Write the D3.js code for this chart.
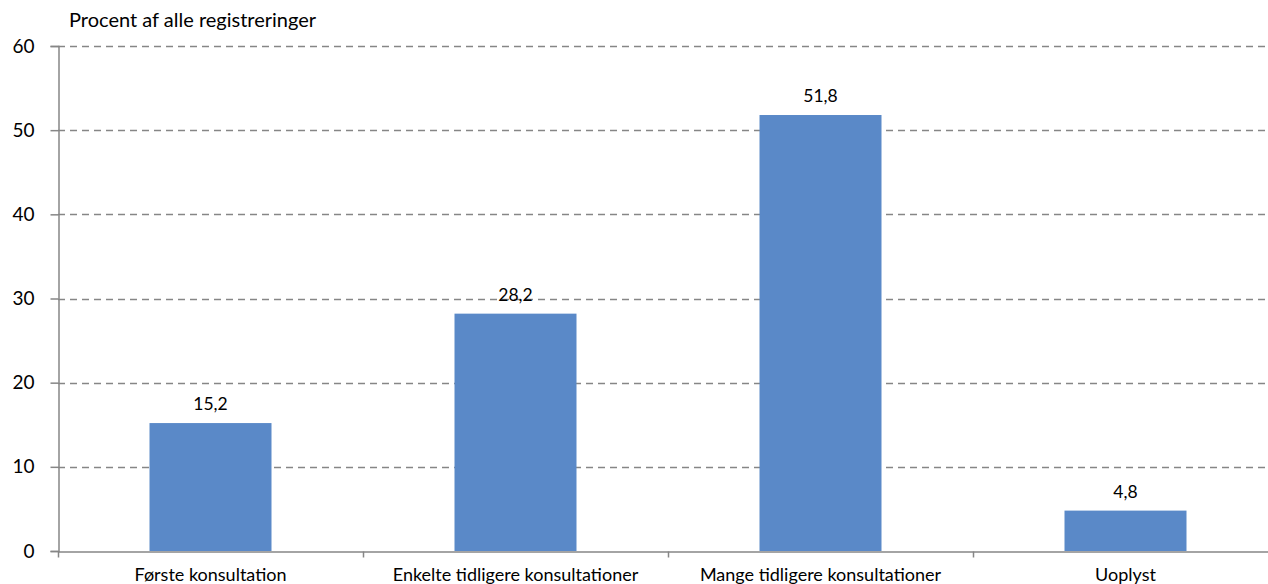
<!DOCTYPE html>
<html>
<head>
    <meta charset="utf-8">
    <script src="https://cdnjs.cloudflare.com/ajax/libs/d3/7.8.5/d3.min.js"></script>
    <style>
        body{ margin:0; background:#fff; }
        text{ font-family: Lato, "Open Sans", sans-serif; fill:#000; }
    </style>
</head>
<body>
<script>
    const categories = ['Første konsultation', 'Enkelte tidligere konsultationer', 'Mange tidligere konsultationer', 'Uoplyst'];
    const values = [15.2, 28.2, 51.8, 4.8];
    const yTicks = [0, 10, 20, 30, 40, 50, 60];
    const yTitle = 'Procent af alle registreringer';

    const W = 1268, H = 584;
    const mLeft = 58, mRight = 1278, mTop = 46, mBottom = 551;

    const svg = d3.select('body').append('svg')
        .attr('width', W).attr('height', H);

    const x = d3.scaleBand().domain(categories).range([mLeft, mRight]).padding(0);
    const y = d3.scaleLinear().domain([0, 60]).range([mBottom, mTop]);

    // gridlines
    svg.append('g').selectAll('line').data(yTicks.filter(d => d > 0)).enter()
        .append('line')
        .attr('x1', mLeft).attr('x2', W)
        .attr('y1', d => Math.round(y(d)) + 0.5).attr('y2', d => Math.round(y(d)) + 0.5)
        .attr('stroke', '#868686').attr('stroke-width', 1.3)
        .attr('stroke-dasharray', '7,5');

    // bars
    const bw = x.bandwidth() * 0.4;
    svg.append('g').selectAll('rect').data(values).enter()
        .append('rect')
        .attr('x', (d, i) => x(categories[i]) + (x.bandwidth() - bw) / 2)
        .attr('y', d => y(d))
        .attr('width', bw)
        .attr('height', d => mBottom - y(d))
        .attr('fill', '#5a89c8');

    // value labels
    svg.append('g').selectAll('text').data(values).enter()
        .append('text')
        .attr('x', (d, i) => x(categories[i]) + x.bandwidth() / 2)
        .attr('y', d => y(d) - 13)
        .attr('text-anchor', 'middle')
        .attr('font-size', 17.5)
        .text(d => String(d).replace('.', ','));

    // y axis
    const yAxis = svg.append('g').attr('transform', `translate(${mLeft + 0.5},0)`)
        .call(d3.axisLeft(y).tickValues(yTicks).tickSize(8).tickPadding(16).tickFormat(d => d));
    yAxis.select('.domain').attr('stroke', '#868686').attr('stroke-width', 1.5);
    yAxis.selectAll('.tick line').attr('stroke', '#868686').attr('stroke-width', 1.5);
    yAxis.selectAll('.tick text').attr('font-size', 19).style('font-family', 'Lato, sans-serif');

    // x axis
    const xAxis = svg.append('g').attr('transform', `translate(0,${mBottom + 0.5})`)
        .call(d3.axisBottom(x).tickSize(0).tickPadding(17));
    xAxis.select('.domain').attr('stroke', '#868686').attr('stroke-width', 1.5);
    xAxis.selectAll('.tick text').attr('font-size', 18).style('font-family', 'Lato, sans-serif');
    // category separators
    xAxis.append('g').selectAll('line').data(categories).enter()
        .append('line')
        .attr('x1', d => x(d) + 0.5).attr('x2', d => x(d) + 0.5)
        .attr('y1', 0).attr('y2', 6)
        .attr('stroke', '#868686').attr('stroke-width', 1.5);

    // y title
    svg.append('text')
        .attr('x', 69).attr('y', 27)
        .attr('font-size', 20)
        .text(yTitle);
</script>
</body>
</html>
